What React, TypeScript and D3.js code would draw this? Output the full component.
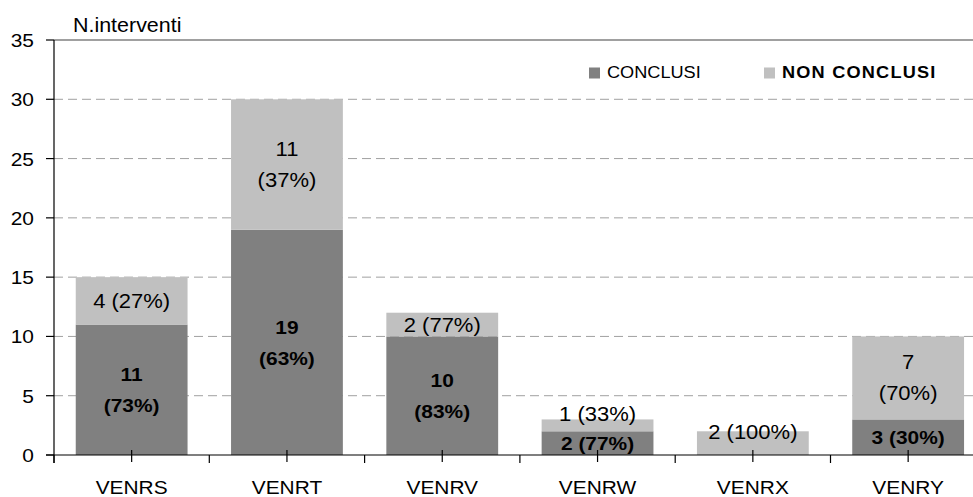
import React from 'react';
import * as d3 from 'd3';

const categories = ['VENRS', 'VENRT', 'VENRV', 'VENRW', 'VENRX', 'VENRY'];
const conclusi = [11, 19, 10, 2, 0, 3];
const nonConclusi = [4, 11, 2, 1, 2, 7];
const conclusiLabels = ['11\n(73%)', '19\n(63%)', '10\n(83%)', '2 (77%)', '', '3 (30%)'];
const nonConclusiLabels = ['4 (27%)', '11\n(37%)', '2 (77%)', '1 (33%)', '2 (100%)', '7\n(70%)'];
const yTicks = [0, 5, 10, 15, 20, 25, 30, 35];

const W = 973;
const H = 497;
const FONT = '"Liberation Sans", Arial, sans-serif';
const DARK = '#808080';
const LIGHT = '#c0c0c0';

// text in the source is slightly wider than it is tall
function Txt({ x, y, size, weight, anchor = 'middle', spacing, children }: any) {
  return (
    <text
      transform={`translate(${x},${y}) scale(1.1,1)`}
      textAnchor={anchor}
      fontSize={size}
      fontWeight={weight || 'normal'}
      fontFamily={FONT}
      letterSpacing={spacing}
      fill="#000"
    >
      {children}
    </text>
  );
}

function SegLabel({ x, cy, text, bold }: { x: number; cy: number; text: string; bold: boolean }) {
  if (!text) return null;
  const lines = text.split('\n');
  const lh = 31;
  const size = bold ? 19 : 20;
  return (
    <g>
      {lines.map((l, i) => (
        <Txt key={i} x={x} y={cy + (i - (lines.length - 1) / 2) * lh + size * 0.35} size={size} weight={bold ? 'bold' : 'normal'}>
          {l}
        </Txt>
      ))}
    </g>
  );
}

export default function App() {
  const left = 54;
  const step = 155.3;
  const x = d3.scaleBand<string>()
    .domain(categories)
    .range([left, left + step * categories.length])
    .paddingInner(0.28)
    .paddingOuter(0.14);
  const y = d3.scaleLinear().domain([0, 35]).range([455, 40]);
  const y0 = y(0);

  return (
    <svg width={W} height={H} style={{ position: 'absolute', left: 0, top: 0, display: 'block', background: '#fff' }}>
      {/* gridlines */}
      {yTicks.filter(t => t > 0 && t < 35).map(t => (
        <line key={t} x1={left} x2={W} y1={y(t)} y2={y(t)} stroke="#a0a0a0" strokeWidth={1} strokeDasharray="9,5" />
      ))}
      {/* top border */}
      <line x1={left} x2={W} y1={y(35)} y2={y(35)} stroke="#808080" strokeWidth={1.5} />

      {/* bars */}
      {categories.map((c, i) => {
        const bx = x(c)!;
        const bw = x.bandwidth();
        const top1 = y(conclusi[i]);
        const top2 = y(conclusi[i] + nonConclusi[i]);
        return (
          <g key={c}>
            {conclusi[i] > 0 && <rect x={bx} y={top1} width={bw} height={y0 - top1} fill={DARK} />}
            {nonConclusi[i] > 0 && <rect x={bx} y={top2} width={bw} height={top1 - top2} fill={LIGHT} />}
          </g>
        );
      })}

      {/* axes */}
      <line x1={left} x2={left} y1={y(35)} y2={y0 + 8} stroke="#000" strokeWidth={1.2} />
      <line x1={46} x2={W} y1={y0} y2={y0} stroke="#000" strokeWidth={1.2} />
      {yTicks.map(t => (
        <g key={t}>
          <line x1={46} x2={left} y1={y(t)} y2={y(t)} stroke="#000" strokeWidth={1.2} />
          <Txt x={34} y={y(t) + 7} size={19} anchor="end">{t}</Txt>
        </g>
      ))}
      {d3.range(categories.length + 1).map(i => (
        <line key={'b' + i} x1={left + i * step} x2={left + i * step} y1={y0} y2={y0 + 8} stroke="#000" strokeWidth={1.2} />
      ))}
      {categories.map(c => {
        const cx = x(c)! + x.bandwidth() / 2;
        return (
          <g key={'t' + c}>
            <line x1={cx} x2={cx} y1={y0 - 5} y2={y0 + 7} stroke="#000" strokeWidth={1.2} />
            <Txt x={cx} y={494} size={19}>{c}</Txt>
          </g>
        );
      })}

      {/* segment labels */}
      {categories.map((c, i) => {
        const cx = x(c)! + x.bandwidth() / 2;
        const top1 = y(conclusi[i]);
        const top2 = y(conclusi[i] + nonConclusi[i]);
        let lightCy = (top1 + top2) / 2;
        if (lightCy > y0 - 35) lightCy -= 11;
        return (
          <g key={'l' + c}>
            <SegLabel x={cx} cy={(y0 + top1) / 2} text={conclusiLabels[i]} bold={true} />
            <SegLabel x={cx} cy={lightCy} text={nonConclusiLabels[i]} bold={false} />
          </g>
        );
      })}

      {/* axis title */}
      <Txt x={73} y={32} size={19.5} anchor="start">N.interventi</Txt>

      {/* legend */}
      <rect x={589} y={67.5} width={11} height={11} fill={DARK} />
      <Txt x={607} y={77.5} size={16.5} anchor="start">CONCLUSI</Txt>
      <rect x={764} y={67.5} width={11} height={11} fill={LIGHT} />
      <Txt x={782} y={77.5} size={16.5} weight="bold" anchor="start" spacing={1.1}>NON CONCLUSI</Txt>
    </svg>
  );
}
